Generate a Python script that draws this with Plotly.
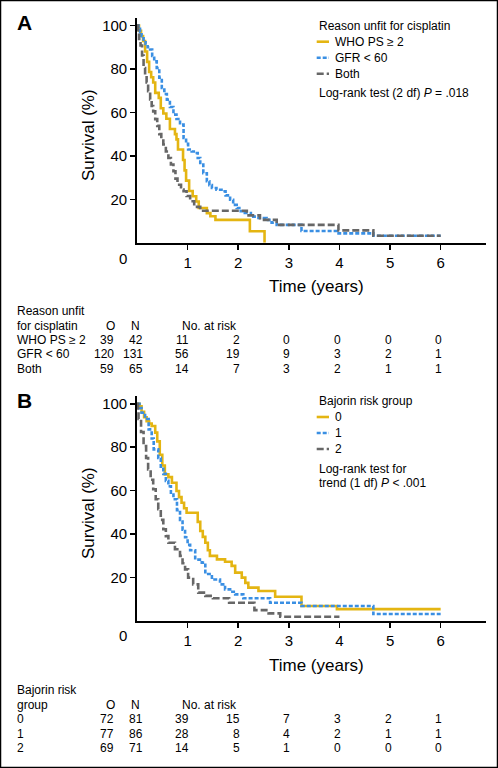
import plotly.graph_objects as go

W, H = 498, 768
FONT = "Liberation Sans, Arial, Helvetica, sans-serif"


def px(x):
    return x / W


def py(y):
    return 1 - y / H


# ---------------- Panel A: reason unfit for cisplatin ----------------
a_who_t = [0, 0.04, 0.08, 0.12, 0.16, 0.20, 0.24, 0.28, 0.32, 0.36, 0.43, 0.47, 0.52, 0.58,
           0.65, 0.75, 0.78, 0.81, 0.91, 0.94, 0.97, 1.03, 1.10, 1.17, 1.22, 1.38, 1.45, 1.55,
           2.23, 2.52]
a_who_s = [100, 97.6, 95.2, 92.9, 88.1, 83.3, 78.6, 76.2, 73.8, 69.0, 66.7, 61.9, 59.5, 57.1,
           52.4, 50.0, 47.6, 42.9, 38.1, 33.3, 28.6, 23.8, 21.4, 19.0, 16.0, 13.6, 12.2, 10.5,
           5.3, 0]

a_gfr_t = [0, 0.03, 0.06, 0.09, 0.13, 0.17, 0.21, 0.26, 0.30, 0.34, 0.39, 0.44, 0.49, 0.54,
           0.59, 0.65, 0.72, 0.78, 0.85, 0.92, 0.97, 1.01, 1.08, 1.15, 1.20, 1.25, 1.31, 1.38,
           1.43, 1.48, 1.57, 1.67, 1.75, 1.84, 1.90, 1.97, 2.05, 2.13, 2.25, 2.40, 2.56, 2.66,
           2.76, 3.25, 3.95, 4.67, 6.0]
a_gfr_s = [100, 98.5, 97, 95.1, 93.5, 91.5, 90, 89, 86, 83.5, 80.5, 76, 71.3, 68.5,
           65.9, 62.5, 59, 57, 54.4, 48.2, 45.5, 42.9, 42, 41.3, 39, 36, 32, 28.3,
           26.5, 25.2, 24.4, 23.7, 21.8, 19.8, 17.4, 16, 14.5, 13.7, 12, 11.4, 10.5, 9.2,
           8.2, 5.4, 4.3, 3.2, 3.2]

a_both_t = [0, 0.02, 0.04, 0.07, 0.10, 0.13, 0.16, 0.19, 0.22, 0.26, 0.29, 0.32, 0.36, 0.40,
            0.44, 0.48, 0.52, 0.57, 0.62, 0.67, 0.72, 0.76, 0.80, 0.87, 0.92, 0.98, 1.05, 1.13,
            1.25, 2.17, 2.43, 2.76, 3.98, 4.67, 6.0]
a_both_s = [100, 96.9, 93.8, 90.8, 86.2, 80.5, 77, 73.8, 69.8, 66, 63, 60.5, 56.9, 53.8,
            50.0, 47.7, 45.2, 42, 39, 36, 32.9, 29.5, 26.7, 24.5, 23.7, 21.5, 19.1, 16.5,
            14.7, 12.6, 10.5, 8.2, 5.7, 3.2, 3.2]

a_groups = ["WHO PS \u2265 2", "GFR < 60", "Both"]
a_obs = [39, 120, 59]
a_n = [42, 131, 65]
a_risk = [[11, 2, 0, 0, 0, 0],
          [56, 19, 9, 3, 2, 1],
          [14, 7, 3, 2, 1, 1]]

# ---------------- Panel B: Bajorin risk group ----------------
b_g0_t = [0, 0.05, 0.09, 0.14, 0.19, 0.24, 0.29, 0.36, 0.40, 0.45, 0.50, 0.55, 0.62, 0.69,
          0.78, 0.83, 0.88, 0.93, 0.98, 1.20, 1.25, 1.30, 1.35, 1.40, 1.44, 1.58, 1.74, 1.87,
          1.94, 2.07, 2.14, 2.20, 2.40, 2.73, 3.25, 3.95, 6.0]
b_g0_s = [100, 98.8, 96.3, 93.8, 92.0, 90.9, 89.8, 86.7, 82.7, 76.5, 71.6, 67.5, 66.2, 63.6,
          59.8, 57, 54.4, 51.9, 49.8, 45.6, 41.4, 38.7, 36.0, 32.5, 29.9, 28.3, 27.2, 25.3,
          22.2, 19.9, 17.5, 15.3, 13.7, 11.1, 6.8, 5.4, 5.4]

b_g1_t = [0, 0.05, 0.09, 0.16, 0.23, 0.29, 0.33, 0.42, 0.47, 0.52, 0.57, 0.62, 0.67, 0.72,
          0.79, 0.85, 0.90, 0.95, 1.00, 1.05, 1.15, 1.28, 1.35, 1.48, 1.64, 1.74, 1.84, 1.94,
          2.10, 2.63, 3.25, 4.67, 6.0]
b_g1_s = [100, 98, 95.9, 93, 88.2, 84, 79, 75, 71, 67.7, 64.5, 62, 59, 56,
          51, 46.5, 42, 38.5, 35, 32.5, 28.2, 26.8, 21.6, 19, 16.8, 14.5, 13.4, 12.2,
          10.4, 8.3, 6.8, 3.1, 3.1]

b_g2_t = [0, 0.02, 0.03, 0.08, 0.13, 0.18, 0.22, 0.27, 0.32, 0.37, 0.42, 0.47, 0.52, 0.57,
          0.62, 0.75, 0.85, 0.90, 0.95, 1.01, 1.11, 1.21, 1.35, 1.50, 1.82, 2.32, 2.60, 2.83,
          4.0]
b_g2_s = [100, 97, 93, 87, 80.5, 75, 69.8, 65, 60.6, 56, 51.4, 46.5, 42.2, 39,
          36, 33, 29.9, 26.5, 23.7, 19.9, 16.8, 13, 11.5, 10.4, 8.3, 4.9, 3.4, 1.9,
          1.9]

b_groups = ["0", "1", "2"]
b_obs = [72, 77, 69]
b_n = [81, 86, 71]
b_risk = [[39, 15, 7, 3, 2, 1],
          [28, 8, 4, 2, 1, 1],
          [14, 5, 1, 0, 0, 0]]

risk_times = [1, 2, 3, 4, 5, 6]
x_ticks = [1, 2, 3, 4, 5, 6]
y_ticks = [20, 40, 60, 80, 100]

# ---------------- styles ----------------
YEL = "#E4B512"
BLU = "#3A8FE3"
GRY = "#676767"
DASH_BLUE = "4px,2px"
DASH_GRAY = "7px,3px"
LW = 2.6

fig = go.Figure()


def add_curve(t, s, color, dash, xa, ya):
    fig.add_trace(go.Scatter(
        x=t, y=s, mode="lines",
        line=dict(color=color, width=LW, dash=dash, shape="hv"),
        xaxis=xa, yaxis=ya, showlegend=False, hoverinfo="skip"))


add_curve(a_who_t, a_who_s, YEL, "solid", "x", "y")
add_curve(a_gfr_t, a_gfr_s, BLU, DASH_BLUE, "x", "y")
add_curve(a_both_t, a_both_s, GRY, DASH_GRAY, "x", "y")

add_curve(b_g0_t, b_g0_s, YEL, "solid", "x2", "y2")
add_curve(b_g1_t, b_g1_s, BLU, DASH_BLUE, "x2", "y2")
add_curve(b_g2_t, b_g2_s, GRY, DASH_GRAY, "x2", "y2")

axis_common = dict(
    showline=True, linecolor="black", linewidth=1.8,
    ticks="outside", ticklen=5, tickwidth=1.5, tickcolor="black",
    showgrid=False, zeroline=False, fixedrange=True,
    tickfont=dict(family=FONT, size=15, color="black"),
)

XDOM = [px(137), px(485.7)]
XR = [0, 6.89]

fig.update_layout(
    width=W, height=H,
    margin=dict(l=0, r=0, t=0, b=0, pad=0),
    paper_bgcolor="white", plot_bgcolor="white",
    showlegend=False,
    xaxis=dict(domain=XDOM, range=XR, tickvals=x_ticks, anchor="y", **axis_common),
    yaxis=dict(domain=[py(242.7), py(18)], range=[0, 103.5], tickvals=y_ticks,
               anchor="x", **axis_common),
    xaxis2=dict(domain=XDOM, range=XR, tickvals=x_ticks, anchor="y2", **axis_common),
    yaxis2=dict(domain=[py(620.8), py(396)], range=[0, 103.6], tickvals=y_ticks,
                anchor="x2", **axis_common),
)

ann = []
shapes = []


def text(x, y, s, size=12, xanchor="left", bold=False, xref="paper", xshift=0, angle=0):
    if bold:
        s = "<b>" + s + "</b>"
    ann.append(dict(x=x, y=py(y), xref=xref, yref="paper", text=s, showarrow=False,
                    xanchor=xanchor, yanchor="middle", xshift=xshift, textangle=angle,
                    font=dict(family=FONT, size=size, color="black")))


# panel letters
text(px(15), 22.5, "A", size=21, bold=True)
text(px(15), 400, "B", size=21, bold=True)

# axis titles
for ytitle, xtitle_y in [(135, 286.7), (513, 665)]:
    text(px(88), ytitle, "Survival (%)", size=17, xanchor="center", angle=-90)
    text(px(316.5), xtitle_y, "Time (years)", size=17, xanchor="center")

# origin "0" labels
text(px(122.5), 258.3, "0", size=15, xanchor="center")
text(px(122.5), 635.7, "0", size=15, xanchor="center")


# legends
def legend(title_lines, labels, extra_lines, y0):
    y = y0
    for tl in title_lines:
        text(px(316.7), y, tl, size=12)
        y += 16
    for lab, col, dash in zip(labels, [YEL, BLU, GRY], ["solid", DASH_BLUE, DASH_GRAY]):
        shapes.append(dict(type="line", xref="paper", yref="paper",
                           x0=px(316.7), x1=px(329), y0=py(y), y1=py(y),
                           line=dict(color=col, width=LW, dash=dash)))
        text(px(333.3), y, lab, size=12)
        y += 16
    y += 3.5
    for el in extra_lines:
        text(px(316.7), y, el, size=12)
        y += 14


legend(["Reason unfit for cisplatin"], a_groups,
       ["Log-rank test (2 df) <i>P</i> = .018"], 25.7)
legend(["Bajorin risk group"], b_groups,
       ["Log-rank test for", "trend (1 df) <i>P</i> < .001"], 401)


# tables
def table(head1, head2, groups, obs, n, risk, rows_y, xref):
    text(px(15), rows_y[0], head1, size=12)
    text(px(15), rows_y[1], head2, size=12)
    text(px(110), rows_y[1], "O", size=12, xanchor="center")
    text(px(135), rows_y[1], "N", size=12, xanchor="center")
    text(px(179.5), rows_y[1], "No. at risk", size=12)
    for i, g in enumerate(groups):
        yy = rows_y[2 + i]
        text(px(15), yy, g, size=12)
        text(px(116), yy, str(obs[i]), size=12, xanchor="right")
        text(px(144.5), yy, str(n[i]), size=12, xanchor="right")
        for t, v in zip(risk_times, risk[i]):
            text(t, yy, str(v), size=12, xanchor="right", xref=xref, xshift=3.5)


table("Reason unfit", "for cisplatin", a_groups, a_obs, a_n, a_risk,
      [311, 326, 340, 354.3, 368.7], "x")
table("Bajorin risk", "group", b_groups, b_obs, b_n, b_risk,
      [690, 705, 719.3, 734, 747.7], "x2")

# outer frame
shapes.append(dict(type="rect", xref="paper", yref="paper", x0=0, x1=1, y0=0, y1=1,
                   line=dict(color="black", width=2.5)))

fig.update_layout(annotations=ann, shapes=shapes)

fig.write_html(
    "out.html",
    config={"displayModeBar": False, "staticPlot": True},
    post_script="document.body.style.margin='0px';document.body.style.overflow='hidden';",
)
